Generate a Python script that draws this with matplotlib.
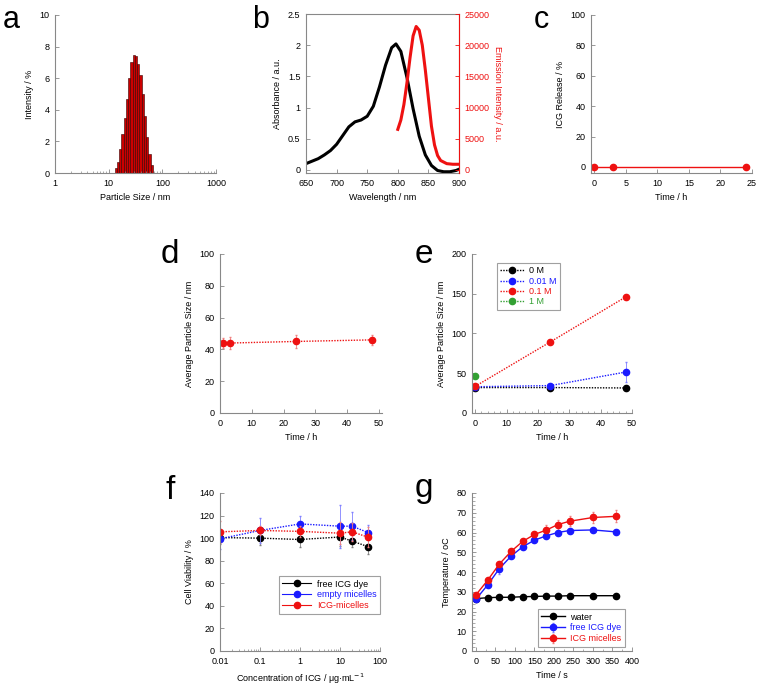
import numpy as np
import matplotlib.pyplot as plt
from matplotlib.ticker import FuncFormatter, MultipleLocator, LogLocator

plt.rcParams['font.family'] = ['Liberation Sans', 'DejaVu Sans']
plt.rcParams['font.size'] = 6.5

# ==========================================================
# DATA
# ==========================================================

# a: size distribution
dls_edges = [12.9, 14.2, 15.6, 17.2, 19.0, 20.9, 23.0, 25.3, 27.9, 30.7,
             33.9, 37.3, 41.1, 45.3, 49.9, 55.0, 60.6, 66.8]
dls_intensity = [0.3, 0.7, 1.5, 2.5, 3.5, 4.7, 6.0, 7.0, 7.5, 7.4,
                 6.9, 6.2, 5.0, 3.6, 2.3, 1.2, 0.5]

# b: absorbance / emission
abs_wl = [650, 660, 670, 680, 690, 700, 710, 720, 730, 740, 750, 760, 770,
          780, 790, 797, 805, 815, 825, 835, 845, 855, 865, 875, 885, 895, 900]
abs_val = [0.10, 0.14, 0.18, 0.24, 0.31, 0.41, 0.55, 0.69, 0.77, 0.80, 0.86,
           1.02, 1.33, 1.68, 1.96, 2.02, 1.90, 1.48, 0.98, 0.54, 0.24, 0.07,
           -0.01, -0.03, -0.03, -0.01, 0.01]
em_wl = [800, 805, 810, 815, 820, 825, 830, 835, 840, 845, 850, 855, 860,
         865, 870, 880, 890, 900]
em_val = [6500, 8000, 10500, 14000, 18000, 21500, 23000, 22400, 20000, 16000,
          11500, 7000, 4000, 2300, 1500, 1000, 900, 900]

# c: ICG release
rel_t = [0, 3, 24]
rel_val = [0, 0, 0]

# d: stability
d_t = [1, 3, 24, 48]
d_size = [44, 44, 45, 46]
d_err = [3, 3.5, 4, 3]

# e: salt
e_t = [0, 24, 48]
e_0M = [32, 32, 31.5]
e_001M = [33, 34.5, 51.5]
e_001M_err = [1, 2, 12.5]
e_01M = [33.5, 89.5, 146]
e_1M_t = [0]
e_1M = [46.5]

# f: cell viability
f_conc = [0.01, 0.1, 1, 10, 20, 50]
f_free = [100.5, 100, 98.8, 101, 97.4, 92.5]
f_free_err = [6, 6, 7, 8, 5, 6.5]
f_empty = [99.4, 106.8, 112.6, 110.6, 110.6, 105]
f_empty_err = [9, 11, 7, 19, 12.5, 7]
f_icg = [105.6, 106.8, 106, 104.4, 105.6, 100.9]
f_icg_err = [10, 4, 5, 10, 8, 9]

# g: heating
g_t = [0, 30, 60, 90, 120, 150, 180, 210, 240, 300, 360]
g_water = [26.5, 27.0, 27.2, 27.2, 27.5, 27.6, 27.8, 27.8, 28.0, 28.0, 28.0]
g_free = [26.2, 33.4, 41.7, 48.0, 52.8, 56.1, 58.3, 60.0, 61.0, 61.3, 60.3]
g_free_err = [0.5, 1, 2.5, 1, 1, 1, 1, 1, 1, 1, 1]
g_micelle = [28.4, 35.8, 44.0, 50.4, 55.5, 59.0, 61.2, 64.0, 65.7, 67.6, 68.2]
g_micelle_err = [0.5, 1, 1, 1, 1, 1.5, 2.5, 2.5, 2.5, 3, 3]

# ==========================================================
# STYLE
# ==========================================================

RED = '#ee1111'
BLUE = '#1a1aff'
GREEN = '#33a033'
GREY = '#888888'
W, H = 757, 684
DOT = (0, (1, 1))

fig = plt.figure(figsize=(W / 100, H / 100), dpi=100)


def make_ax(x0, y0, x1, y1, box=False):
    ax = fig.add_axes([x0 / W, 1 - y1 / H, (x1 - x0) / W, (y1 - y0) / H])
    for s in ax.spines.values():
        s.set_color(GREY)
        s.set_linewidth(0.8)
    if not box:
        ax.spines['top'].set_visible(False)
        ax.spines['right'].set_visible(False)
    ax.tick_params(direction='in', length=3, width=0.6, color=GREY,
                   labelsize=6.5, pad=4)
    ax.tick_params(which='minor', direction='in', length=1.8, width=0.5,
                   color=GREY)
    return ax


def panel_label(x, y, s, size=24):
    fig.text(x / W, 1 - y / H, s, fontsize=size, va='baseline', ha='left')


def style_legend(leg, colors):
    leg.get_frame().set_linewidth(0.8)
    for t, c in zip(leg.get_texts(), colors):
        t.set_color(c)


gfmt = FuncFormatter(lambda v, p: '%g' % v)

# ----------------------------------------------------------
# a
# ----------------------------------------------------------
ax = make_ax(55, 15, 216, 173)
widths = np.diff(dls_edges)
ax.bar(dls_edges[:-1], dls_intensity, width=widths, align='edge',
       color='#cc0000', edgecolor='#330000', linewidth=0.4)
ax.set_xscale('log')
ax.set_xlim(1, 1000)
ax.set_ylim(0, 10)
ax.yaxis.set_major_locator(MultipleLocator(2))
ax.xaxis.set_major_formatter(gfmt)
ax.xaxis.set_minor_locator(LogLocator(subs=np.arange(2, 10)))
ax.set_xlabel('Particle Size / nm')
ax.set_ylabel('Intensity / %')
panel_label(3, 28, 'a', 22)

# ----------------------------------------------------------
# b
# ----------------------------------------------------------
ax = make_ax(306, 14, 459, 173, box=True)
ax.plot(abs_wl, abs_val, color='black', lw=2.2)
ax.set_xlim(650, 900)
ax.set_ylim(-0.05, 2.5)
ax.xaxis.set_major_locator(MultipleLocator(50))
ax.yaxis.set_major_locator(MultipleLocator(0.5))
ax.yaxis.set_major_formatter(gfmt)
ax.set_xlabel('Wavelength / nm')
ax.set_ylabel('Absorbance / a.u.')
ax2 = ax.twinx()
ax2.plot(em_wl, em_val, color=RED, lw=2.2)
ax2.set_ylim(-500, 25000)
ax2.yaxis.set_major_locator(MultipleLocator(5000))
ax2.spines['right'].set_color(RED)
for s in ['top', 'left', 'bottom']:
    ax2.spines[s].set_visible(False)
ax2.tick_params(direction='in', length=3, width=0.6, color=RED,
                labelcolor=RED, labelsize=6.5, pad=4)
ax2.set_ylabel('Emission Intensity / a.u.', color=RED, rotation=270,
               labelpad=9)
panel_label(252, 28, 'b', 22)

# ----------------------------------------------------------
# c
# ----------------------------------------------------------
ax = make_ax(591, 15, 752, 173)
ax.plot(rel_t, rel_val, 'o-', color=RED, ms=4.5, lw=1)
ax.set_xlim(-0.5, 25)
ax.set_ylim(-4, 100)
ax.xaxis.set_major_locator(MultipleLocator(5))
ax.yaxis.set_major_locator(MultipleLocator(20))
ax.set_xlabel('Time / h')
ax.set_ylabel('ICG Release / %')
panel_label(534, 28, 'c', 22)

# ----------------------------------------------------------
# d
# ----------------------------------------------------------
ax = make_ax(220, 254, 382, 413)
ax.errorbar(d_t, d_size, yerr=d_err, fmt='o', color=RED, ms=4.5,
            ecolor='#f08080', elinewidth=0.6, capsize=1)
ax.plot(d_t, d_size, color=RED, lw=1, ls=DOT)
ax.set_xlim(0, 51)
ax.set_ylim(0, 100)
ax.xaxis.set_major_locator(MultipleLocator(10))
ax.yaxis.set_major_locator(MultipleLocator(20))
ax.set_xlabel('Time / h')
ax.set_ylabel('Average Particle Size / nm')
panel_label(161, 263, 'd')

# ----------------------------------------------------------
# e
# ----------------------------------------------------------
ax = make_ax(472, 254, 632, 413)
h0, = ax.plot(e_t, e_0M, 'o', color='black', ls=DOT, lw=1, ms=4.5)
ax.errorbar(e_t, e_001M, yerr=e_001M_err, fmt='none', ecolor='#8080ff',
            elinewidth=0.6, capsize=1)
h1, = ax.plot(e_t, e_001M, 'o', color=BLUE, ls=DOT, lw=1, ms=4.5)
h2, = ax.plot(e_t, e_01M, 'o', color=RED, ls=DOT, lw=1, ms=4.5)
h3, = ax.plot(e_1M_t, e_1M, 'o', color=GREEN, ls=DOT, lw=1, ms=4.5)
ax.set_xlim(-1, 50)
ax.set_ylim(0, 200)
ax.xaxis.set_major_locator(MultipleLocator(10))
ax.xaxis.set_minor_locator(MultipleLocator(2))
ax.yaxis.set_major_locator(MultipleLocator(50))
ax.set_xlabel('Time / h')
ax.set_ylabel('Average Particle Size / nm')
leg = ax.legend([h0, h1, h2, h3], ['0 M', '0.01 M', '0.1 M', '1 M'],
                loc='upper left', bbox_to_anchor=(0.155, 0.945),
                fancybox=False, edgecolor=GREY, fontsize=6.5,
                handlelength=2.6, labelspacing=0.15, borderpad=0.4,
                handletextpad=0.6, borderaxespad=0)
style_legend(leg, ['black', BLUE, RED, GREEN])
panel_label(415, 263, 'e')

# ----------------------------------------------------------
# f
# ----------------------------------------------------------
ax = make_ax(220, 493, 380, 651)
for vals, err, col, ecol, lab in [
        (f_free, f_free_err, 'black', '#808080', 'free ICG dye'),
        (f_empty, f_empty_err, BLUE, '#8080ff', 'empty micelles'),
        (f_icg, f_icg_err, RED, '#f08080', 'ICG-micelles')]:
    ax.errorbar(f_conc, vals, yerr=err, fmt='none', ecolor=ecol,
                elinewidth=0.6, capsize=1)
    ax.plot(f_conc, vals, color=col, ls=DOT, lw=1)
    ax.plot(f_conc, vals, 'o', color=col, ms=4.5)
    ax.plot([], [], 'o-', color=col, ms=4.5, lw=0.8, label=lab)
ax.set_xscale('log')
ax.set_xlim(0.01, 100)
ax.set_ylim(0, 140)
ax.yaxis.set_major_locator(MultipleLocator(20))
ax.xaxis.set_major_formatter(gfmt)
ax.xaxis.set_minor_locator(LogLocator(subs=np.arange(2, 10)))
ax.set_xlabel('Concentration of ICG / μg·mL$^{-1}$')
ax.set_ylabel('Cell Viability / %')
leg = ax.legend(loc='upper right', bbox_to_anchor=(1.0, 0.475),
                fancybox=False, edgecolor=GREY, fontsize=6.5,
                handlelength=3.2, labelspacing=0.2, borderpad=0.4,
                handletextpad=0.6, borderaxespad=0)
style_legend(leg, ['black', BLUE, RED])
panel_label(166, 499, 'f')

# ----------------------------------------------------------
# g
# ----------------------------------------------------------
ax = make_ax(472, 493, 632, 651)
ax.plot(g_t, g_water, 'o-', color='black', ms=4.5, lw=1, label='water')
ax.errorbar(g_t, g_free, yerr=g_free_err, fmt='o-', color=BLUE, ms=4.5,
            lw=1, ecolor='#8080ff', elinewidth=0.6, capsize=1,
            label='free ICG dye')
ax.errorbar(g_t, g_micelle, yerr=g_micelle_err, fmt='o-', color=RED, ms=4.5,
            lw=1, ecolor='#f08080', elinewidth=0.6, capsize=1,
            label='ICG micelles')
ax.set_xlim(-10, 400)
ax.set_ylim(0, 80)
ax.xaxis.set_major_locator(MultipleLocator(50))
ax.xaxis.set_minor_locator(MultipleLocator(25))
ax.yaxis.set_major_locator(MultipleLocator(10))
ax.yaxis.set_minor_locator(MultipleLocator(2))
ax.set_xlabel('Time / s')
ax.set_ylabel('Temperature / oC')
leg = ax.legend(loc='upper right', bbox_to_anchor=(0.956, 0.266),
                fancybox=False, edgecolor=GREY, fontsize=6.5,
                handlelength=2.6, labelspacing=0.2, borderpad=0.4,
                handletextpad=0.6, borderaxespad=0)
style_legend(leg, ['black', BLUE, RED])
panel_label(415, 497, 'g')

fig.savefig('out.png', dpi=100)
